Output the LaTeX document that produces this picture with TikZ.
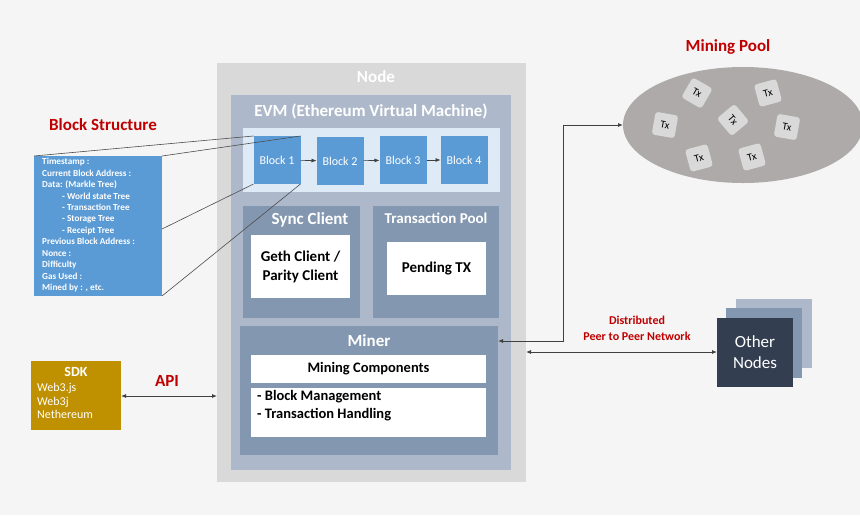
\documentclass[tikz,border=0pt]{standalone}
\usepackage{fontspec}
\setmainfont{Carlito}
\usetikzlibrary{arrows.meta,shapes.geometric}
\definecolor{bg}{HTML}{F5F5F5}
\definecolor{nodeg}{HTML}{D9D9D9}
\definecolor{evm}{HTML}{ADB9CA}
\definecolor{cont}{HTML}{DEEBF7}
\definecolor{blk}{HTML}{5B9BD5}
\definecolor{sub}{HTML}{8497B0}
\definecolor{sdk}{HTML}{BF9000}
\definecolor{pool}{HTML}{AEAAAA}
\definecolor{dark}{HTML}{333F50}
\definecolor{red}{HTML}{C00000}
\tikzset{
 box/.style={draw=none,inner sep=0,outer sep=0},
 blkn/.style={box,fill=blk,minimum width=47pt,minimum height=48pt,text=white,font=\fontsize{12}{14}\selectfont},
 white/.style={box,fill=white},
 ttl/.style={font=\bfseries\fontsize{17}{20}\selectfont,text=white},
 red/.style={font=\bfseries\fontsize{17}{20}\selectfont,text=red},
 tx/.style={box,fill=nodeg,rounded corners=3pt,minimum size=23pt,font=\fontsize{10.5}{11}\selectfont},
 arr/.style={draw=black!75,line width=0.8pt,-{Latex[length=5pt,width=4pt]}},
 zl/.style={draw=black!70,line width=0.6pt},
}
\begin{document}
\begin{tikzpicture}[x=1pt,y=-1pt]
\useasboundingbox (0,0) rectangle (860,515);
\fill[bg] (0,0) rectangle (860,515);
% Node
\node[box,fill=nodeg,minimum width=309pt,minimum height=419pt,anchor=north west] (node) at (217,63) {};
\node[ttl] (nodet) at (376,77) {Node};
\node[box,fill=evm,minimum width=280pt,minimum height=375pt,anchor=north west] (evm) at (231,95) {};
\node[ttl] (evmt) at (371,111) {EVM (Ethereum Virtual Machine)};
\node[box,fill=cont,minimum width=257pt,minimum height=64pt,anchor=north west] (cont) at (243,128) {};
\node[blkn] (b1) at (277,160) {Block 1};
\node[blkn] (b2) at (340,161) {Block 2};
\node[blkn] (b3) at (403,160) {Block 3};
\node[blkn] (b4) at (464,160) {Block 4};
\draw[arr,line width=0.6pt] (b1) -- (b2);
\draw[arr,line width=0.6pt] (b2) -- (b3);
\draw[arr,line width=0.6pt] (b3) -- (b4);
% Sync client
\node[box,fill=sub,minimum width=117pt,minimum height=112pt,anchor=north west] (sync) at (243,206) {};
\node[ttl] (synct) at (310,220) {Sync Client};
\node[white,minimum width=99pt,minimum height=63pt,anchor=north west,align=center,font=\bfseries\fontsize{15}{19}\selectfont] (geth) at (251,235) {Geth Client /\\Parity Client};
\node[box,fill=sub,minimum width=126pt,minimum height=112pt,anchor=north west] (tp) at (373,206) {};
\node[font=\bfseries\fontsize{15}{17}\selectfont,text=white] (tpt) at (436,218) {Transaction Pool};
\node[white,minimum width=99pt,minimum height=53pt,anchor=north west,font=\bfseries\fontsize{15}{17}\selectfont] (pend) at (387,242) {Pending TX};
% Miner
\node[box,fill=sub,minimum width=258pt,minimum height=129pt,anchor=north west] (miner) at (240,326) {};
\node[ttl] (minert) at (369,341) {Miner};
\node[white,minimum width=235pt,minimum height=28pt,anchor=north west,font=\bfseries\fontsize{14.5}{16}\selectfont] (mc) at (251,355) {Mining Components};
\node[white,minimum width=235pt,minimum height=49pt,anchor=north west] (bm) at (251,388) {};
\node[anchor=north west,align=left,font=\bfseries\fontsize{14.5}{18}\selectfont,inner sep=0] (bmt) at (257,390) {- Block Management\\- Transaction Handling};
% Block structure
\node[red] (bst) at (103,125) {Block Structure};
\node[box,fill=blk,minimum width=128pt,minimum height=140pt,anchor=north west] (bs) at (34,156) {};
\node[anchor=north west,inner sep=0,text=white,align=left,font=\bfseries\fontsize{9.2}{11.45}\selectfont] (bstext) at (42,158) {Timestamp :\\Current Block Address :\\Data: (Markle Tree)\\\hspace{20pt}- World state Tree\\\hspace{20pt}- Transaction Tree\\\hspace{20pt}- Storage Tree\\\hspace{20pt}- Receipt Tree\\Previous Block Address :\\Nonce :\\Difficulty\\Gas Used :\\Mined by : , etc.};
\draw[zl] (bs.north west) -- (b1.north west);
\draw[zl] (bs.north east) -- (b1.north east);
\draw[zl] ([yshift=-73pt]bs.north east) -- (b1.south west);
\draw[zl] (bs.south east) -- (b1.south east);
% SDK
\node[box,fill=sdk,minimum width=90pt,minimum height=69pt,anchor=north west] (sdk) at (31,361) {};
\node[font=\bfseries\fontsize{14}{16}\selectfont,text=white] (sdkt) at (76,372) {SDK};
\node[anchor=north west,inner sep=0,text=white,align=left,font=\fontsize{12}{13.5}\selectfont] (sdkl) at (37,383) {Web3.js\\Web3j\\Nethereum};
\node[red] (api) at (167,381) {API};
\draw[arr,{Latex[length=5pt,width=4pt]}-{Latex[length=5pt,width=4pt]}] (sdk.east |- 0,396) -- (node.west |- 0,396);
% Mining pool
\node[red] (mpt) at (728,47) {Mining Pool};
\node[box,fill=pool,ellipse,minimum width=240pt,minimum height=116pt] (pool) at (743,125) {};
\node[tx,rotate=-30] (t1) at (697,93) {Tx};
\node[tx,rotate=15] (t2) at (768,93) {Tx};
\node[tx,rotate=-10] (t3) at (665,125) {Tx};
\node[tx,rotate=-50] (t4) at (733,120) {Tx};
\node[tx,rotate=-10] (t5) at (787,127) {Tx};
\node[tx,rotate=15] (t6) at (699,158) {Tx};
\node[tx,rotate=15] (t7) at (752,157) {Tx};
\coordinate (c1) at (563,341);
\coordinate (c2) at (563,125);
\draw[arr,{Latex[length=5pt,width=4pt]}-{Latex[length=5pt,width=4pt]}] (miner.east |- c1) -- (c1) -- (c2) -- (pool.west);
% Other nodes
\node[box,fill=evm,minimum width=76pt,minimum height=69pt,anchor=north west] (on3) at (736,299) {};
\node[box,fill=sub,minimum width=76pt,minimum height=70pt,anchor=north west] (on2) at (726,308) {};
\node[box,fill=dark,minimum width=76pt,minimum height=69pt,anchor=north west,text=white,align=center,font=\fontsize{17}{21}\selectfont] (on1) at (717,318) {Other\\Nodes};
\node[font=\bfseries\fontsize{12}{16}\selectfont,text=red,align=center] (p2p) at (637,328) {Distributed\\Peer to Peer Network};
\draw[arr,{Latex[length=5pt,width=4pt]}-{Latex[length=5pt,width=4pt]}] (node.east |- 0,352) -- (on1.west |- 0,352);
\end{tikzpicture}
\end{document}
